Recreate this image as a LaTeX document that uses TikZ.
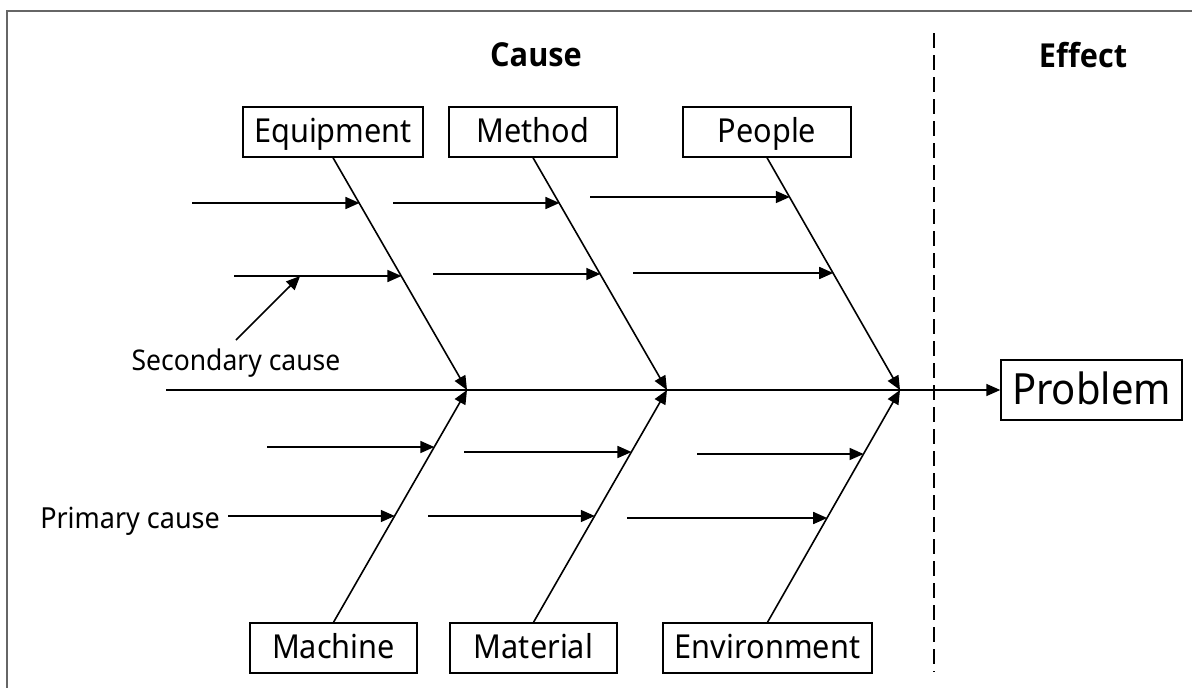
\documentclass[tikz,border=0pt]{standalone}
\usepackage{fontspec}
\setmainfont{Noto Sans}[FakeStretch=0.93]
\newfontfamily\headfont{Open Sans}[FakeStretch=0.93]
\usetikzlibrary{arrows.meta,calc}

\begin{document}
\begin{tikzpicture}[x=1pt,y=-1pt,
  arr/.style={line width=1.6pt,-{Triangle[length=14pt,width=12pt]}},
  cat/.style={draw,line width=1.4pt,inner sep=0pt,minimum height=50pt,
    text height=24pt,text depth=4pt,font=\fontsize{33}{39}\selectfont},
  lbl/.style={inner sep=3pt,text height=27pt,text depth=3pt,
    font=\fontsize{28.5}{34}\selectfont},
  head/.style={font=\headfont\bfseries\fontsize{33}{40}\selectfont},
  divider/.style={line width=1.5pt,dash pattern=on 15pt off 7pt}]
\useasboundingbox (0,0) rectangle (1192,688);
% frame (left and top edges)
\draw[line width=2pt,draw=black!60] (7,688) -- (7,11) -- (1192,11);

% headings
\node[head] (cause) at (536,55) {Cause};
\node[head] (effect) at (1083,55) {Effect};

% cause-effect divider
\coordinate (d1) at (934,33);
\coordinate (d2) at (934,672);
\draw[divider] (d1) -- (d2);

% category boxes
\node[cat,minimum width=180pt] (eq) at (333,132) {Equipment};
\node[cat,minimum width=168pt] (me) at (533,132) {Method};
\node[cat,minimum width=168pt] (pe) at (767,132) {People};
\node[cat,minimum width=167pt] (ma) at (333.5,648) {Machine};
\node[cat,minimum width=167pt] (mt) at (533.5,648) {Material};
\node[cat,minimum width=209pt] (en) at (767.5,648) {Environment};
\node[draw,line width=1.4pt,inner sep=0pt,minimum width=181pt,minimum height=60pt,
  text height=32pt,text depth=4pt,font=\fontsize{43}{51}\selectfont] (pr) at (1091.5,390) {Problem};

% spine and joints
\coordinate (tail) at (166,390);
\coordinate (j1) at (467,390);
\coordinate (j2) at (667,390);
\coordinate (j3) at (900,390);
\draw[arr] (tail) -- (pr.west);

% main bones
\draw[arr] (eq.south) -- (j1);
\draw[arr] (me.south) -- (j2);
\draw[arr] (pe.south) -- (j3);
\draw[arr] (ma.north) -- (j1);
\draw[arr] (mt.north) -- (j2);
\draw[arr] (en.north) -- (j3);

% points on the bones where the cause arrows end
\coordinate (e1) at ($(eq.south)!{(203-157)/233}!(j1)$);
\coordinate (e2) at ($(eq.south)!{(276-157)/233}!(j1)$);
\coordinate (m1) at ($(me.south)!{(203-157)/233}!(j2)$);
\coordinate (m2) at ($(me.south)!{(274-157)/233}!(j2)$);
\coordinate (p1) at ($(pe.south)!{(197-157)/233}!(j3)$);
\coordinate (p2) at ($(pe.south)!{(273-157)/233}!(j3)$);
\coordinate (c1) at ($(ma.north)!{(623-447)/233}!(j1)$);
\coordinate (c2) at ($(ma.north)!{(623-516)/233}!(j1)$);
\coordinate (t1) at ($(mt.north)!{(623-452)/233}!(j2)$);
\coordinate (t2) at ($(mt.north)!{(623-516)/233}!(j2)$);
\coordinate (v1) at ($(en.north)!{(623-454)/233}!(j3)$);
\coordinate (v2) at ($(en.north)!{(623-518)/233}!(j3)$);

% arrow tails
\coordinate (e1s) at (192,203);
\coordinate (e2s) at (234,276);
\coordinate (m1s) at (393,203);
\coordinate (m2s) at (433,274);
\coordinate (p1s) at (590,197);
\coordinate (p2s) at (633,273);
\coordinate (c1s) at (267,447);
\coordinate (t1s) at (464,452);
\coordinate (t2s) at (428,516);
\coordinate (v1s) at (697,454);
\coordinate (v2s) at (627,518);

% cause arrows
\draw[arr] (e1s) -- (e1s -| e1);
\draw[arr] (e2s) -- (e2s -| e2);
\draw[arr] (m1s) -- (m1s -| m1);
\draw[arr] (m2s) -- (m2s -| m2);
\draw[arr] (p1s) -- (p1s -| p1);
\draw[arr] (p2s) -- (p2s -| p2);
\draw[arr] (c1s) -- (c1s -| c1);
\draw[arr] (t1s) -- (t1s -| t1);
\draw[arr] (t2s) -- (t2s -| t2);
\draw[arr] (v1s) -- (v1s -| v1);
\draw[arr] (v2s) -- (v2s -| v2);

% primary cause label
\node[lbl,anchor=east,inner sep=8pt,text height=26pt,text depth=2pt,
  font=\fontsize{29}{35}\selectfont] (pc) at (228,516) {Primary cause};
\draw[arr] (pc.east) -- (pc.east -| c2);

% secondary cause label
\node[lbl,anchor=north] (sc) at (236,340) {Secondary cause};
\coordinate (e2t) at (e2s -| e2);
\coordinate (sctip) at ($(e2s)!0.395!(e2t)$);
\draw[arr] (sc.north) -- (sctip);
\end{tikzpicture}
\end{document}
